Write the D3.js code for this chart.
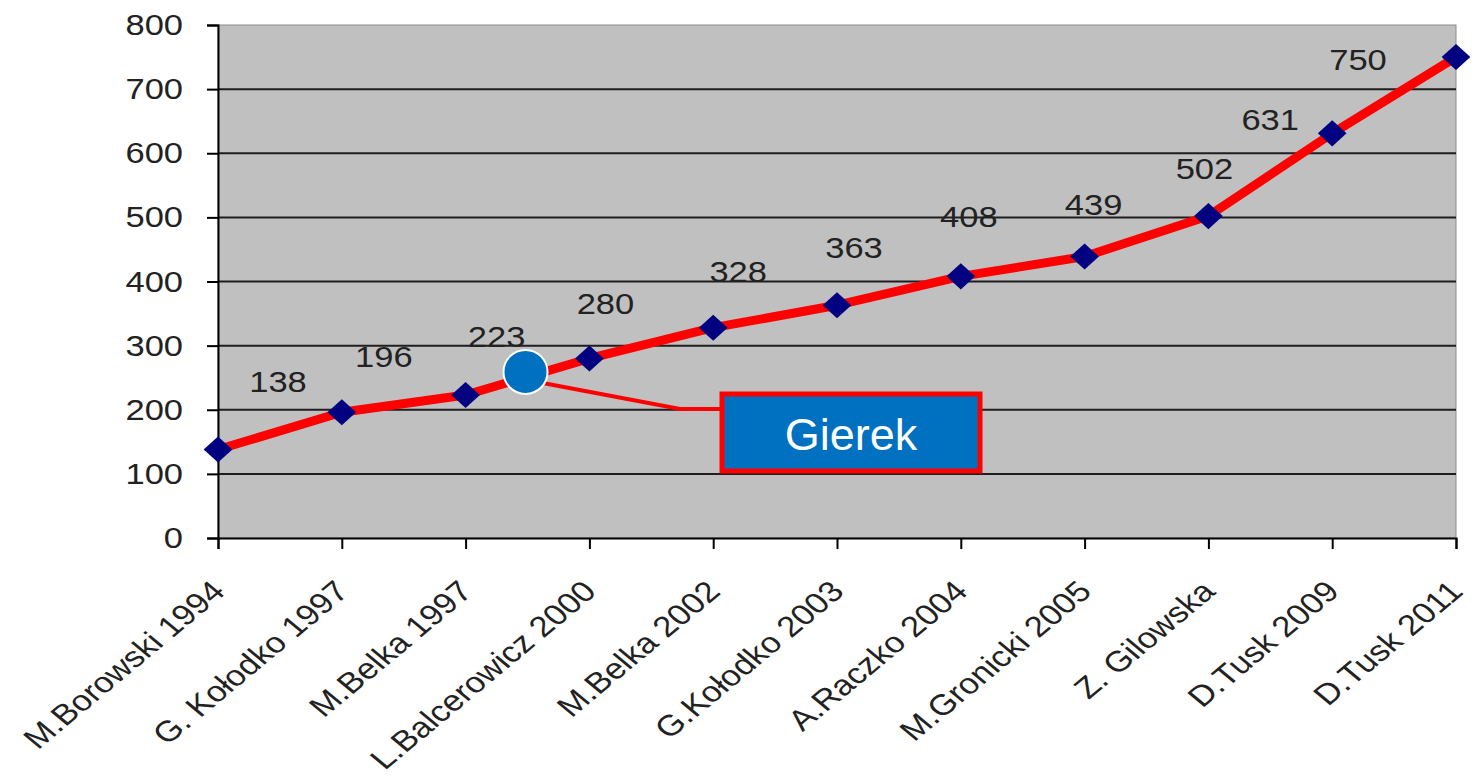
<!DOCTYPE html>
<html>
<head>
<meta charset="utf-8">
<script src="https://cdn.jsdelivr.net/npm/d3@7"></script>
<style>
    body { margin: 0; background: #fff; }
    text { font-family: "Liberation Sans", Arial, sans-serif; }
</style>
</head>
<body>
<div class="chart"></div>
<script>
var categories = ["M.Borowski 1994", "G. Kołodko 1997", "M.Belka 1997", "L.Balcerowicz 2000",
    "M.Belka 2002", "G.Kołodko 2003", "A.Raczko 2004", "M.Gronicki 2005", "Z. Gilowska",
    "D.Tusk 2009", "D.Tusk 2011"];
var values = [138, 196, 223, 280, 328, 363, 408, 439, 502, 631, 750];
var yTicks = [0, 100, 200, 300, 400, 500, 600, 700, 800];
var calloutText = "Gierek";

// where each value label sits relative to its point (as placed in the original slide)
var labelOffset = [[60, -68], [42, -56], [31, -59], [16, -55], [25, -56], [17, -58],
    [8, -60], [9, -52], [-4, -48], [-62, -14], [-98, 2]];

var w = 1472;
var h = 779;
var plotLeft = 218, plotRight = 1456, plotTop = 25, plotBottom = 538;
var stretch = 1.15;

var svg = d3.select(".chart")
    .append("svg")
    .attr("width", w)
    .attr("height", h);

var scaleX = d3.scalePoint()
    .domain(categories)
    .range([plotLeft, plotRight])
    .padding(0);

var scaleY = d3.scaleLinear()
    .domain([0, 800])
    .range([plotBottom, plotTop]);

svg.append("rect")
    .attr("x", plotLeft)
    .attr("y", plotTop)
    .attr("width", plotRight - plotLeft)
    .attr("height", plotBottom - plotTop)
    .attr("fill", "#c0c0c0")
    .attr("stroke", "#8c8c8c")
    .attr("stroke-width", 1);

// gridlines
svg.append("g")
    .selectAll("line")
    .data(yTicks.filter(d => d > 0 && d < 800))
    .enter()
    .append("line")
    .attr("x1", plotLeft)
    .attr("x2", plotRight)
    .attr("y1", d => scaleY(d))
    .attr("y2", d => scaleY(d))
    .attr("stroke", "#1e1e1e")
    .attr("stroke-width", 2);

var axisY = d3.axisLeft(scaleY)
    .tickValues(yTicks)
    .tickSize(11)
    .tickPadding(24);

var gy = svg.append("g")
    .attr("transform", "translate(" + plotLeft + ",0)")
    .call(axisY);
gy.select(".domain").attr("stroke", "#000").attr("stroke-width", 2);
gy.selectAll(".tick line").attr("stroke", "#000").attr("stroke-width", 2);
gy.selectAll(".tick text")
    .attr("font-size", 30)
    .attr("fill", "#222")
    .attr("font-family", "Liberation Sans, Arial, sans-serif")
    .attr("transform", function() {
        var x = +d3.select(this).attr("x");
        return "translate(" + x + ",0) scale(" + stretch + ",1) translate(" + (-x) + ",0)";
    });

var axisX = d3.axisBottom(scaleX)
    .tickSize(11)
    .tickFormat("");

var gx = svg.append("g")
    .attr("transform", "translate(0," + plotBottom + ")")
    .call(axisX);
gx.select(".domain").attr("stroke", "#000").attr("stroke-width", 2);
gx.selectAll(".tick line").attr("stroke", "#000").attr("stroke-width", 2);

svg.append("g")
    .selectAll("text")
    .data(categories)
    .enter()
    .append("text")
    .attr("transform", d => "translate(" + (scaleX(d) + 0) + "," + (plotBottom + 48) + ") scale(1.2,1) rotate(-45)")
    .attr("text-anchor", "end")
    .attr("dy", "0.35em")
    .attr("font-size", 29)
    .attr("fill", "#222")
    .text(d => d);

var line = d3.line()
    .x((d, i) => scaleX(categories[i]))
    .y(d => scaleY(d));

svg.append("path")
    .datum(values)
    .attr("d", line)
    .attr("fill", "none")
    .attr("stroke", "#ff0000")
    .attr("stroke-width", 9)
    .attr("stroke-linejoin", "round");

svg.append("g")
    .selectAll("path")
    .data(values)
    .enter()
    .append("path")
    .attr("d", d3.symbol(d3.symbolSquare, 340))
    .attr("transform", (d, i) => "translate(" + scaleX(categories[i]) + "," + scaleY(d) + ") scale(1.1,1) rotate(45)")
    .attr("fill", "#000080");

svg.append("g")
    .selectAll("text")
    .data(values)
    .enter()
    .append("text")
    .attr("transform", (d, i) => "translate(" + (scaleX(categories[i]) + labelOffset[i][0]) + "," + (scaleY(d) + labelOffset[i][1]) + ") scale(" + stretch + ",1)")
    .attr("text-anchor", "middle")
    .attr("dy", "0.35em")
    .attr("font-size", 30)
    .attr("fill", "#222")
    .text(d => d);

// callout: between M.Belka 1997 and L.Balcerowicz 2000
var cx = (scaleX(categories[2]) + scaleX(categories[3])) / 2 - 2;
var cy = scaleY(259);

svg.append("polyline")
    .attr("points", [[cx + 12, cy + 10], [680, 409], [722, 409]].map(p => p.join(",")).join(" "))
    .attr("fill", "none")
    .attr("stroke", "#ff0000")
    .attr("stroke-width", 4);

svg.append("circle")
    .attr("cx", cx)
    .attr("cy", cy)
    .attr("r", 22)
    .attr("fill", "#0070c0")
    .attr("stroke", "#fff")
    .attr("stroke-width", 2);

svg.append("rect")
    .attr("x", 722)
    .attr("y", 394)
    .attr("width", 258)
    .attr("height", 77)
    .attr("fill", "#0070c0")
    .attr("stroke", "#ff0000")
    .attr("stroke-width", 5);

svg.append("text")
    .attr("x", 851)
    .attr("y", 434)
    .attr("dy", "0.36em")
    .attr("text-anchor", "middle")
    .attr("font-size", 45)
    .attr("fill", "#fff")
    .text(calloutText);
</script>
</body>
</html>
